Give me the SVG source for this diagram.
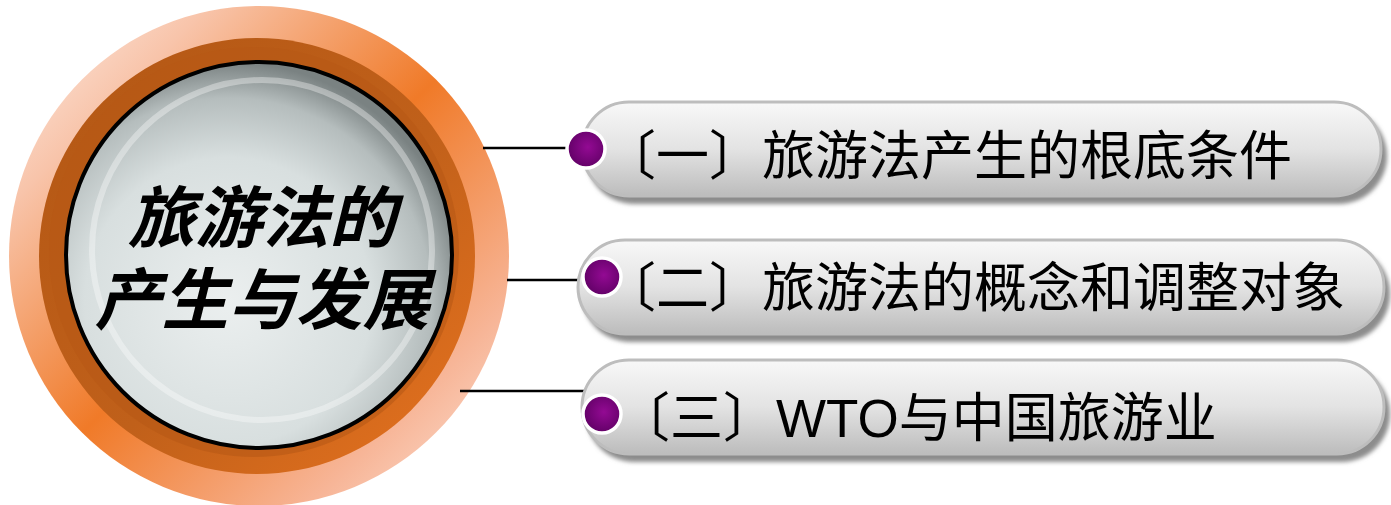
<svg xmlns="http://www.w3.org/2000/svg" width="1391" height="505" viewBox="0 0 1391 505">
<defs>
<style>
.pill{fill:url(#pillGrad);stroke:#bdbdbd;stroke-width:3;}
.shadow{fill:#8c8c8c;filter:url(#blur);}
.dot{fill:url(#dotGrad);stroke:#ffffff;stroke-width:3.5;}
.lbl{font-family:"Noto Sans CJK SC","Liberation Sans",sans-serif;font-size:53px;fill:#000;}
.lat{font-family:"Liberation Sans",Arial,sans-serif;}
.conn{stroke:#000;stroke-width:2.5;fill:none;}
.title{font-family:"Noto Sans CJK SC",sans-serif;font-size:67px;font-style:italic;font-weight:700;fill:#000;text-anchor:middle;}
</style>
<linearGradient id="haloGrad" x1="0" y1="0" x2="1" y2="1">
<stop offset="0" stop-color="#fdf0ea"/>
<stop offset="0.2" stop-color="#f8c4aa"/>
<stop offset="0.5" stop-color="#f07a28"/>
<stop offset="0.8" stop-color="#f7b597"/>
<stop offset="1" stop-color="#fde8de"/>
</linearGradient>
<linearGradient id="ringGrad" x1="0" y1="0" x2="1" y2="1">
<stop offset="0" stop-color="#b35714"/>
<stop offset="0.55" stop-color="#c0601a"/>
<stop offset="1" stop-color="#e8731f"/>
</linearGradient>
<radialGradient id="faceGrad" cx="0.42" cy="0.62" r="0.62">
<stop offset="0" stop-color="#ebefef"/>
<stop offset="0.6" stop-color="#d8dfdf"/>
<stop offset="0.85" stop-color="#b5bdbd"/>
<stop offset="1" stop-color="#7a8282"/>
</radialGradient>
<linearGradient id="pillGrad" x1="0" y1="0" x2="0" y2="1">
<stop offset="0" stop-color="#f8f8f8"/>
<stop offset="0.5" stop-color="#e3e3e3"/>
<stop offset="1" stop-color="#bcbcbc"/>
</linearGradient>
<radialGradient id="dotGrad" cx="0.55" cy="0.45" r="0.6">
<stop offset="0" stop-color="#930a93"/>
<stop offset="1" stop-color="#5e0063"/>
</radialGradient>
<filter id="blur" x="-5%" y="-20%" width="110%" height="140%">
<feGaussianBlur stdDeviation="2"/>
</filter>
</defs>

<g id="hub">
<circle cx="259" cy="256" r="250" fill="url(#haloGrad)"/>
<circle cx="257" cy="256" r="218" fill="url(#ringGrad)"/>
<circle cx="254" cy="252" r="205" fill="#b85916" opacity="0.6"/>
<circle cx="259" cy="255" r="193" fill="url(#faceGrad)" stroke="#000" stroke-width="4"/>
<circle cx="262" cy="250" r="170" fill="none" stroke="#ffffff" stroke-opacity="0.35" stroke-width="6"/>
<text class="title"><tspan x="262" y="242">旅游法的</tspan><tspan x="262" y="324">产生与发展</tspan></text>
</g>

<g id="connectors">
<line class="conn" x1="483" y1="148" x2="578" y2="148"/>
<line class="conn" x1="507" y1="280" x2="590" y2="280"/>
<line class="conn" x1="460" y1="391" x2="588" y2="391"/>
</g>

<g id="item1">
<rect class="shadow" x="586" y="108" width="801" height="96" rx="48"/>
<rect class="pill" x="582" y="102" width="799" height="94" rx="47"/>
<circle class="dot" cx="586" cy="149" r="19"/>
<text class="lbl" x="603" y="175">〔一〕旅游法产生的根底条件</text>
</g>

<g id="item2">
<rect class="shadow" x="582" y="246" width="808" height="96" rx="48"/>
<rect class="pill" x="578" y="240" width="806" height="94" rx="47"/>
<circle class="dot" cx="602" cy="277" r="19"/>
<text class="lbl" x="603" y="307">〔二〕旅游法的概念和调整对象</text>
</g>

<g id="item3">
<rect class="shadow" x="586" y="366" width="804" height="96" rx="48"/>
<rect class="pill" x="582" y="360" width="802" height="94" rx="47"/>
<circle class="dot" cx="602" cy="414" r="19"/>
<text class="lbl" x="617" y="437">〔三〕<tspan class="lat">WTO</tspan>与中国旅游业</text>
</g>
</svg>
